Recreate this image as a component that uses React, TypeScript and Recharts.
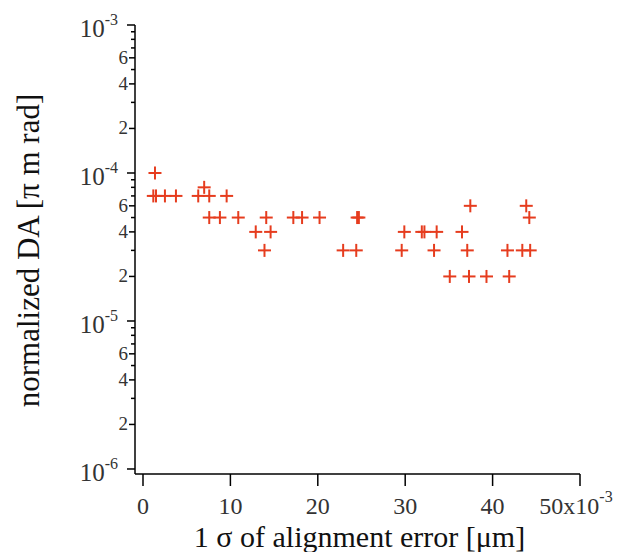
import React from 'react';
import { ScatterChart, Scatter, XAxis, YAxis } from 'recharts';

// 1 sigma alignment error (x10^-3 um) and normalized DA (pi m rad)
const alignErr = [
  1.37, 1.18, 1.49, 2.51, 3.77, 6.32, 7.58, 9.57, 7.0,
  7.58, 8.8, 10.9, 14.1, 17.2, 18.2, 20.2, 24.5, 24.7,
  12.9, 14.6, 13.9, 22.9, 24.4,
  37.45, 43.85, 44.2,
  29.9, 31.9, 32.2, 33.6, 36.5,
  29.6, 33.3, 37.1, 41.7, 43.4, 44.3,
  35.1, 37.3, 39.3, 41.9,
];
const normDA = [
  1e-4, 7e-5, 7e-5, 7e-5, 7e-5, 7e-5, 7e-5, 7e-5, 8e-5,
  5e-5, 5e-5, 5e-5, 5e-5, 5e-5, 5e-5, 5e-5, 5e-5, 5e-5,
  4e-5, 4e-5, 3e-5, 3e-5, 3e-5,
  6e-5, 6e-5, 5e-5,
  4e-5, 4e-5, 4e-5, 4e-5, 4e-5,
  3e-5, 3e-5, 3e-5, 3e-5, 3e-5, 3e-5,
  2e-5, 2e-5, 2e-5, 2e-5,
];

const xTicks = [0, 10, 20, 30, 40, 50];
const yDecades = [-6, -5, -4];
const yTicks: number[] = [];
yDecades.forEach((e) => {
  for (let m = 1; m <= 9; m++) yTicks.push(m * Math.pow(10, e));
});
yTicks.push(1e-3);

const data = alignErr.map((x, i) => ({ x, y: normDA[i] }));

const FONT = '"Liberation Serif", "DejaVu Serif", serif';
const RED = '#e63c1e';

function Cross(props: any) {
  const { cx, cy } = props;
  if (cx == null || cy == null) return null;
  return (
    <g stroke={RED} strokeWidth={2}>
      <line x1={cx - 6.5} y1={cy} x2={cx + 6.5} y2={cy} />
      <line x1={cx} y1={cy - 6.5} x2={cx} y2={cy + 6.5} />
    </g>
  );
}

function YTick(props: any) {
  const { x, y, payload } = props;
  const v = payload.value;
  const e = Math.floor(Math.log10(v) + 1e-9);
  const m = Math.round(v / Math.pow(10, e));
  if (m === 1) {
    return (
      <g>
        <line x1={x - 8} y1={y} x2={x} y2={y} stroke="#000" strokeWidth={1.5} />
        <text x={x - 17} y={y + 12} textAnchor="end" fontFamily={FONT} fontSize={25} fill="#333">
          10
          <tspan dy={-12} fontSize={16}>{e}</tspan>
        </text>
      </g>
    );
  }
  const labeled = m === 2 || m === 4 || m === 6;
  return (
    <g>
      <line x1={x - (labeled ? 6 : 4)} y1={y} x2={x} y2={y} stroke="#000" strokeWidth={1.5} />
      {labeled && (
        <text x={x - 7} y={y + 6} textAnchor="end" fontFamily={FONT} fontSize={19} fill="#333">
          {m}
        </text>
      )}
    </g>
  );
}

function XTick(props: any) {
  const { x, y, payload } = props;
  const v = payload.value;
  return (
    <g>
      <line x1={x} y1={y} x2={x} y2={y + 12} stroke="#000" strokeWidth={1.5} />
      <text x={v === 50 ? x - 4 : x} y={y + 40} textAnchor="middle" fontFamily={FONT} fontSize={24} fill="#333">
        {v === 50 ? (
          <>
            50x10<tspan dy={-12} fontSize={16}>-3</tspan>
          </>
        ) : (
          v
        )}
      </text>
    </g>
  );
}

function XTitle(props: any) {
  const vb = props.viewBox;
  return (
    <text x={vb.x + vb.width / 2 + 2} y={vb.y + 73} textAnchor="middle" fontFamily={FONT} fontSize={30} fill="#111">
      1 σ of alignment error [μm]
    </text>
  );
}

function YTitle(props: any) {
  const vb = props.viewBox;
  const cx = 38.5;
  const cy = vb.y + vb.height / 2 + 1;
  return (
    <text x={cx} y={cy} transform={`rotate(-90, ${cx}, ${cy})`} textAnchor="middle" fontFamily={FONT} fontSize={31} fill="#111">
      normalized DA [π m rad]
    </text>
  );
}

export default function App() {
  return (
    <div style={{ position: 'absolute', left: 0, top: 0, width: 631, height: 552, background: '#fff' }}>
      <ScatterChart width={631} height={552} margin={{ top: 25, right: 51, bottom: 0, left: 0 }}>
        <XAxis
          type="number"
          dataKey="x"
          domain={[-0.915, 50]}
          allowDataOverflow
          ticks={xTicks}
          interval={0}
          height={78}
          tickSize={0}
          tickMargin={0}
          tick={<XTick />}
          axisLine={{ stroke: '#000', strokeWidth: 1.5 }}
          label={{ content: <XTitle /> }}
        />
        <YAxis
          type="number"
          dataKey="y"
          scale="log"
          domain={[9.25e-7, 1e-3]}
          allowDataOverflow
          ticks={yTicks}
          interval={0}
          width={135}
          tickSize={0}
          tickMargin={0}
          tick={<YTick />}
          axisLine={{ stroke: '#000', strokeWidth: 1.5 }}
          label={{ content: <YTitle /> }}
        />
        <Scatter data={data} shape={<Cross />} isAnimationActive={false} />
      </ScatterChart>
    </div>
  );
}
